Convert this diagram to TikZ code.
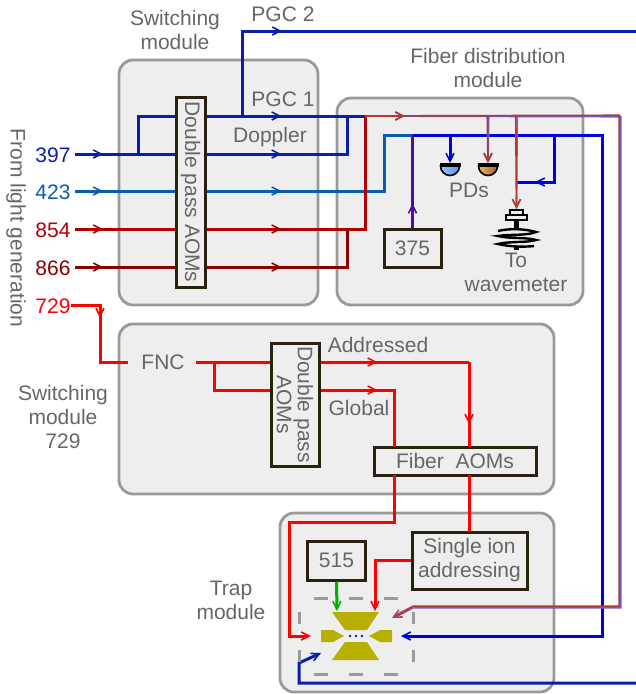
\documentclass[tikz,border=0pt]{standalone}
\usepackage{fontspec}
\setmainfont{Liberation Sans}
\usetikzlibrary{arrows.meta,positioning,decorations.markings}

\definecolor{txtgray}{HTML}{666666}
\definecolor{modfill}{HTML}{EEEEEE}
\definecolor{modline}{HTML}{999999}
\definecolor{boxline}{HTML}{2A2010}
\definecolor{cviolet}{HTML}{0A1FA8}
\definecolor{cblue}{HTML}{0A5CB0}
\definecolor{cred}{HTML}{B00000}
\definecolor{cdark}{HTML}{8B0000}
\definecolor{cuv}{HTML}{4B0E9E}
\definecolor{cbright}{HTML}{0000E0}
\definecolor{mixblue}{HTML}{6A60D0}
\definecolor{mixred}{HTML}{B03A30}
\definecolor{ctrap}{HTML}{B8B000}

\begin{document}
\begin{tikzpicture}[x=1pt, y=-1pt, font=\fontsize{21}{24}\selectfont,
	module/.style={draw=modline, fill=modfill, line width=2.8pt, rounded corners=14pt},
	box/.style={draw=boxline, line width=3pt, fill=modfill, inner sep=0pt, align=center, text=txtgray},
	txt/.style={text=txtgray, inner sep=0pt, align=center},
	lam/.style={inner sep=0pt},
	beam/.style={line width=3pt},
	thin beam/.style={line width=1.7pt},
	midbarb/.style={postaction={decorate}, decoration={markings, mark=at position #1 with {\arrow{Straight Barb[length=8pt,width=8pt,line width=1.6pt]}}}},
	endbarb/.style={-{Straight Barb[length=8pt,width=8pt,line width=1.6pt]}},
	dashgray/.style={draw=modline, line width=3pt, dash pattern=on 14pt off 21pt},
	dashside/.style={draw=modline, line width=3pt, dash pattern=on 12pt off 26pt}]

	\useasboundingbox (0,0) rectangle (636,694);

	% Modules
	\draw[module] (119,60) rectangle (318,305);
	\draw[module] (337,98) rectangle (583,305);
	\draw[module] (119,324) rectangle (554,494);
	\draw[module] (280,513) rectangle (554,692);

	% Inputs
	\node[lam, text=cviolet] (A) at (53,155) {397};
	\node[lam, text=cblue] (B) at (53,192) {423};
	\node[lam, text=cred] (C) at (53,230) {854};
	\node[lam, text=cdark] (D) at (53,268) {866};
	\node[lam, text=red] (E) at (53,306) {729};
	\node[txt, rotate=-90] (Source) at (16,228) {From light generation};

	% Boxes
	\node[box, minimum width=29pt, minimum height=190pt] (AOM) at (190.5,192) {};
	\node[txt, rotate=-90] (AOMtxt) at (AOM.center) {Double pass AOMs};
	\node[box, minimum width=57pt, minimum height=38pt] (UV) at (412.5,248) {375};
	\node[box, minimum width=48pt, minimum height=123pt] (AOMb) at (295,404.5) {};
	\node[txt, rotate=-90, align=center, font=\fontsize{21}{21}\selectfont] (AOMbtxt) at (AOMb.center) {Double pass\\AOMs};
	\node[box, minimum width=162pt, minimum height=28pt] (Fiber) at (455,461) {Fiber\ \ AOMs};
	\node[box, minimum width=115pt, minimum height=57pt, font=\fontsize{21}{24}\selectfont] (Ion) at (469.5,560.5) {Single ion\\addressing};
	\node[box, minimum width=58pt, minimum height=39pt] (Green) [left=46pt of Ion.west, xshift=2.5pt] {515};
	\node[txt] (FNC) at (163,362) {FNC};

	% Labels
	\node[txt] (Lswitch) at (175,30) {Switching\\module};
	\node[txt] (Lfiber) at (488,68) {Fiber distribution\\module};
	\node[txt] (Lswitchb) at (63,417) {Switching\\module\\729};
	\node[txt] (Ltrap) at (231,600) {Trap\\module};
	\node[txt] (Lpgcb) at (283,14) {PGC 2};
	\node[txt] (Lpgca) at (283,99) {PGC 1};
	\node[txt] (Ldop) at (270,137) {Doppler};
	\node[txt] (Laddr) at (378,345) {Addressed};
	\node[txt] (Lglob) at (359,408) {Global};
	\node[txt] (Lpd) at (469,190) {PDs};
	\node[txt] (Lwave) at (516,272) {To\\wavemeter};

	% Points on the beams
	\coordinate (Abra) at (138,154);
	\coordinate (Atop) at (138,116);
	\coordinate (Pup) at (242,116);
	\coordinate (Merge) at (347,116);
	\coordinate (Mix) at (365,116);
	\coordinate (PDa) at (450,163);
	\coordinate (PDb) at (488,163);
	\coordinate (Wave) at (516.5,209);
	\coordinate (Cup) at (384,135);
	\coordinate (Uvtop) at (412.5,135);
	\coordinate (Turn) at (554,135);
	\coordinate (Outr) at (602,135);
	\coordinate (FNCin) at (128,362);
	\coordinate (FNCout) at (196,362);
	\coordinate (TrapT) at (337,611);
	\coordinate (TrapI) at (375,611);
	\coordinate (TrapL) at (311,636);
	\coordinate (TrapR) at (401,636);
	\coordinate (TrapD) at (392,618);
	\coordinate (TrapG) at (321,653);

	% Switching module beams
	\draw[beam, cviolet, midbarb=28pt] (75,154) -- (Abra -| AOM.west);
	\draw[beam, cviolet] (Abra) -- (Atop) -- (Atop -| AOM.west);
	\draw[beam, cviolet, midbarb=75pt] (Atop -| AOM.east) -- (Mix);
	\draw[beam, cviolet, midbarb=75pt] (Abra -| AOM.east) -- (347,154) -- (Merge);
	\draw[beam, cviolet, midbarb=125pt] (Pup) -- (242,31) -- (636,31);
	\draw[beam, cblue, midbarb=28pt] (75,191) -- (0,191 -| AOM.west);
	\draw[beam, cblue, midbarb=75pt] (AOM.east |- 0,191) -- (384,191) -- (Cup) -- (Uvtop);
	\draw[beam, cred, midbarb=28pt] (75,229) -- (0,229 -| AOM.west);
	\draw[beam, cred, midbarb=75pt] (AOM.east |- 0,229) -- (365,229) -- (Mix);
	\draw[beam, cdark, midbarb=28pt] (75,267) -- (0,267 -| AOM.west);
	\draw[beam, cdark, midbarb=75pt] (AOM.east |- 0,267) -- (347,267) -- (347,229);

	% Fiber distribution beams
	\draw[beam, cuv, midbarb=24pt] (UV.north) -- (Uvtop);
	\draw[beam, cbright, endbarb] (Uvtop) -- (Outr) -- (602,636) -- (TrapR);
	\draw[beam, cbright, endbarb] (450,135) -- (PDa);
	\draw[beam, cbright, midbarb=66pt] (Turn) -- (554,182) -- (517,182);
	\draw[thin beam, mixblue, yshift=-0.7pt, xshift=0.7pt, midbarb=40pt] (Mix) -- (620,116) -- (620,607) -- (413,607);
	\draw[thin beam, mixred, yshift=0.7pt, xshift=-0.7pt, midbarb=40pt] (Mix) -- (620,116) -- (620,607) -- (413,607);
	\draw[thin beam, mixblue, xshift=0.7pt, endbarb] (488,116) -- (PDb);
	\draw[thin beam, mixred, xshift=-0.7pt, endbarb] (488,116) -- (PDb);
	\draw[thin beam, mixblue, xshift=0.7pt, endbarb] (516.5,116) -- (Wave);
	\draw[thin beam, mixred, xshift=-0.7pt, endbarb] (516.5,116) -- (Wave);
	\draw[beam, mixred!75!mixblue, endbarb] (413,607) -- (TrapD);

	% Switching module 729 beams
	\draw[beam, red, midbarb=42pt] (71,305) -- (100,305) -- (100,362) -- (FNCin);
	\draw[beam, red] (FNCout) -- (AOMb.west |- FNCout);
	\draw[beam, red] (214,362) -- (214,390) -- (AOMb.west |- 0,390);
	\draw[beam, red, midbarb=57pt] (AOMb.east |- 0,362) -- (469,362);
	\draw[beam, red, midbarb=62pt] (469,362) -- (469,447);
	\draw[beam, red, midbarb=57pt] (AOMb.east |- 0,390) -- (394,390) -- (394,447);
	\draw[beam, red, endbarb] (394,475) -- (394,522) -- (289,522) -- (289,636) -- (TrapL);
	\draw[beam, red] (469,475) -- (469,532);
	\draw[beam, red, endbarb] (Ion.west) -- (TrapI |- Ion.west) -- (TrapI);
	\draw[beam, green!70!black, endbarb] (Green.south) -- (TrapT);

	% Lower entry to the trap
	\draw[beam, cviolet, endbarb] (636,683) -- (299,683) -- (299,663) -- (TrapG);

	% Trap
	\draw[dashgray] (314,598) -- (400,598);
	\draw[dashgray] (314,674) -- (400,674);
	\draw[dashside] (299,612) -- (299,663);
	\draw[dashside] (413,612) -- (413,663);
	\fill[ctrap] (332,612) -- (379,612) -- (367,630) -- (345,630) -- cycle;
	\fill[ctrap] (345,642) -- (367,642) -- (379,660) -- (332,660) -- cycle;
	\fill[ctrap] (321,630) -- (333,630) -- (344,636) -- (333,642) -- (321,642) -- cycle;
	\fill[ctrap] (392,630) -- (380,630) -- (369,636) -- (380,642) -- (392,642) -- cycle;
	\foreach \xx in {350,356,362} \fill[cviolet] (\xx-1,635) rectangle (\xx+1,637);

	% Photodiodes
	\definecolor{pdaL}{HTML}{90C4FF}
	\definecolor{pdaR}{HTML}{5A96F0}
	\definecolor{pdbL}{HTML}{E8B848}
	\definecolor{pdbR}{HTML}{B05A38}
	\foreach \xx/\ca/\cb in {450/pdaL/pdaR, 488/pdbL/pdbR} {
		\draw[black, line width=1.6pt, left color=\ca, right color=\cb] (\xx-9.5,166) arc[start angle=180, end angle=0, radius=9.5] -- cycle;
		\fill[black] (\xx-10.5,163) rectangle (\xx+10.5,167);
	}

	% Fiber coupler and coil
	\draw[black, line width=1.8pt, fill=modfill] (510,210) rectangle (523,215);
	\draw[black, line width=1.8pt, fill=modfill] (506,215) rectangle (527,220);
	\fill[black] (514,220) rectangle (519,228);
	\draw[black, line width=2.4pt] (498,231) .. controls (510,228) and (526,229) .. (536,232) .. controls (526,236) and (510,234) .. (498,236) .. controls (510,239) and (526,237) .. (536,240) .. controls (526,243) and (510,241) .. (498,244) .. controls (510,247) and (526,247) .. (534,246);
	\fill[black] (514,246) rectangle (519,250);

\end{tikzpicture}
\end{document}
